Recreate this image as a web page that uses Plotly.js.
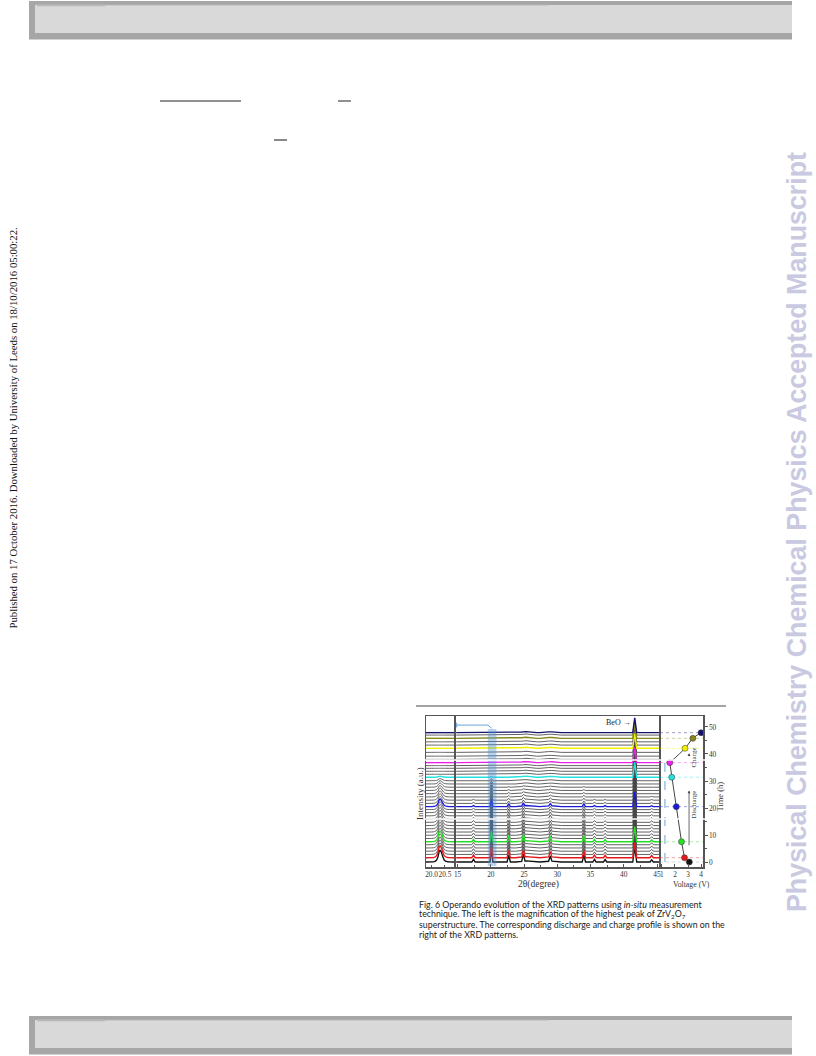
<!DOCTYPE html>
<html><head><meta charset="utf-8">
<script src="https://cdn.plot.ly/plotly-3.0.1.min.js"></script>
<style>html,body{margin:0;padding:0;background:#fff;}#chart{width:816px;height:1056px;}</style>
</head><body><div id="chart"></div>
<script>
// ---------- data ----------
const times = [0, 1.6, 2.8, 4.0, 5.2, 6.4, 7.5, 8.7, 9.9, 11.1, 12.3, 13.5, 14.7, 15.9, 17.1, 18.3, 19.4, 20.5, 21.7, 22.9, 24.1, 25.3, 26.5, 27.7, 28.9, 30.1, 31.4, 32.5, 33.6, 34.7, 35.7, 36.8, 38.0, 39.2, 40.6, 42.1, 43.3, 44.5, 45.8, 47.0, 47.9];
const patternColors = ["#111111","#e3191b","#3a3a3a","#3a3a3a","#3a3a3a","#3a3a3a","#22e022","#3a3a3a","#3a3a3a","#3a3a3a","#3a3a3a","#3a3a3a","#3a3a3a","#3a3a3a","#3a3a3a","#3a3a3a","#3a3a3a","#1c1cd6","#3a3a3a","#3a3a3a","#3a3a3a","#3a3a3a","#3a3a3a","#3a3a3a","#3a3a3a","#3a3a3a","#22e2e2","#3a3a3a","#3a3a3a","#3a3a3a","#3a3a3a","#ea22ea","#3a3a3a","#3a3a3a","#3a3a3a","#f2f200","#3a3a3a","#3a3a3a","#87871a","#3a3a3a","#14146e"];
// relative intensity of the strongest ZrV2O7 peak (~20.1 deg) and of the other ZrV2O7 peaks
const mainAmp  = [1.0,1.0,0.98,0.96,0.94,0.92,0.9,0.88,0.86,0.84,0.82,0.8,0.78,0.75,0.72,0.7,0.67,0.64,0.6,0.56,0.52,0.48,0.42,0.36,0.28,0.18,0.08,0,0,0,0,0,0,0,0,0,0,0,0,0,0];
const otherAmp = [1.0,1.0,0.97,0.95,0.92,0.9,0.88,0.85,0.82,0.78,0.74,0.7,0.66,0.62,0.57,0.52,0.47,0.42,0.35,0.28,0.22,0.16,0.11,0.07,0.04,0.02,0,0,0,0,0,0,0,0,0,0,0,0,0,0,0];
const mainPeakPos = 20.1, mainPeakH = 4.5;
const peakPos = [17.4, 22.7, 24.9, 28.95, 34.0, 35.6, 37.2, 44.2];
const peakH   = [1.0, 2.6, 2.6, 1.9, 2.6, 1.0, 0.9, 0.8];
const beoPos = 41.65, beoH = 5.5;
const humpPos = [25.3, 29.0];
const humpH   = [0.4, 0.35];
// magnified 20.3 deg peak (left panel)
const zoomX     = [19.79, 20.1, 20.18, 20.24, 20.28, 20.32, 20.36, 20.42, 20.48, 20.58, 20.84];
const zoomShape = [0, 0.03, 0.15, 0.45, 0.85, 1.0, 0.85, 0.45, 0.15, 0.03, 0];
const zoomPeakH = 4.4;
// discharge / charge profile
const dotV = [3.1, 2.73, 2.5, 2.1, 1.75, 1.6, 2.77, 3.37, 4.0];
const dotT = [0, 1.6, 7.5, 20.5, 31.4, 36.8, 42.1, 45.8, 47.9];
const dotColors = ["#111111","#e3191b","#22e022","#1c1cd6","#22e2e2","#ea22ea","#f2f200","#87871a","#14146e"];
const xTicksMid = [15, 20, 25, 30, 35, 40, 45];
const xTicksLeft = [20.0, 20.5];
const xTicksLeftText = ["20.0", "20.5"];

// ---------- helpers ----------
const W = 816, H = 1056;
const px = x => x / W, py = y => 1 - y / H;
const SERIF = "Liberation Serif, Times New Roman, serif";
const GRAY = "#3a3a3a";

function triProfile(peaks, xmin, xmax) {
  let knots = [xmin, xmax];
  peaks.forEach(k => knots.push(k.p - k.w, k.p, k.p + k.w));
  knots = knots.filter(x => x >= xmin && x <= xmax).sort((a, b) => a - b);
  knots = knots.filter((x, i) => i === 0 || x - knots[i - 1] > 1e-9);
  const y = knots.map(x => peaks.reduce((s, k) => s + k.h * Math.max(0, 1 - Math.abs(x - k.p) / k.w), 0));
  return {x: knots, y};
}

const traces = [];
const order = times.map((t, i) => i).sort((a, b) => (patternColors[a] === GRAY ? 0 : 1) - (patternColors[b] === GRAY ? 0 : 1));
order.forEach(i => {
  const gray = patternColors[i] === GRAY;
  const peaks = [{p: mainPeakPos, h: mainPeakH * mainAmp[i], w: 0.22},
                 {p: beoPos, h: beoH, w: 0.3}];
  peakPos.forEach((p, k) => peaks.push({p, h: peakH[k] * otherAmp[i], w: 0.25}));
  humpPos.forEach((p, k) => peaks.push({p, h: humpH[k], w: 1.6}));
  const prof = triProfile(peaks, 14.8, 45.3);
  traces.push({type: "scatter", mode: "lines", xaxis: "x2", yaxis: "y2",
    x: prof.x, y: prof.y.map(v => v + times[i]),
    line: {color: patternColors[i], width: gray ? 0.8 : 1.4}, hoverinfo: "skip", showlegend: false});
  traces.push({type: "scatter", mode: "lines", xaxis: "x", yaxis: "y",
    x: zoomX, y: zoomShape.map(s => times[i] + zoomPeakH * mainAmp[i] * s),
    line: {color: patternColors[i], width: gray ? 0.8 : 1.4, shape: "spline", smoothing: 0.6}, hoverinfo: "skip", showlegend: false});
});

// voltage profile
traces.push({type: "scatter", mode: "lines", xaxis: "x3", yaxis: "y3",
  x: dotV.slice(0, 6), y: dotT.slice(0, 6), line: {color: "#444", width: 1}, hoverinfo: "skip", showlegend: false});
traces.push({type: "scatter", mode: "lines", xaxis: "x3", yaxis: "y3",
  x: dotV.slice(5), y: dotT.slice(5), line: {color: "#444", width: 1, shape: "spline", smoothing: 0.8}, hoverinfo: "skip", showlegend: false});
traces.push({type: "scatter", mode: "markers", xaxis: "x3", yaxis: "y3",
  x: dotV, y: dotT, marker: {color: dotColors, size: 6, line: {color: "#333", width: 0.5}}, hoverinfo: "skip", showlegend: false});

// ---------- layout ----------
const yDomain = [py(867), py(716)];
const yRange = [-1.85, 54.07];
const frame = {showline: true, mirror: true, linecolor: "#555", linewidth: 1.5, showgrid: false, zeroline: false};
const tickFont = {family: SERIF, size: 7.3, color: "#333"};

const shapes = [];
function rect(x0, y0, x1, y1, fill) {
  shapes.push({type: "rect", xref: "paper", yref: "paper", x0: px(x0), x1: px(x1), y0: py(y1), y1: py(y0), fillcolor: fill, line: {width: 0}, layer: "below"});
}
function line(x0, y0, x1, y1, color, width, dash) {
  shapes.push({type: "line", xref: "paper", yref: "paper", x0: px(x0), x1: px(x1), y0: py(y0), y1: py(y1), line: {color, width, dash: dash || "solid"}, layer: "above"});
}
// header / footer bars
[0, 1015].forEach(off => {
  rect(29, 1 + off, 792, 39.5 + off, "#a6a6a6");
  rect(35, 5 + off, 792, 33 + off, "#d9d9d9");
  rect(37, 4.3 + off, 105, 6.3 + off, "#b8b8b8");
  rect(105, 4.8 + off, 549, 5.8 + off, "#c4c4c4");
});
// equation fragments
line(160, 101, 241, 101, "#222", 1);
line(338, 101, 351, 101, "#222", 1);
line(274, 140, 287, 140, "#888", 2);
// rule above figure
line(416, 706, 726, 706, "#a3a3a3", 2);

// highlight band and connector
shapes.push({type: "rect", xref: "x2", yref: "y2", x0: 19.55, x1: 20.85, y0: -1.5, y1: 49.3,
  fillcolor: "rgba(80,145,210,0.4)", line: {width: 0}, layer: "above"});
shapes.push({type: "line", xref: "x2", yref: "y2", x0: 14.87, x1: 19.58, y0: 50.7, y1: 50.7, line: {color: "#6aa3d8", width: 1}});
shapes.push({type: "line", xref: "x2", yref: "y2", x0: 19.58, x1: 20.14, y0: 50.7, y1: 49.5, line: {color: "#6aa3d8", width: 1}});
shapes.push({type: "line", xref: "x2", yref: "y2", x0: 14.87, x1: 14.87, y0: 49.8, y1: 51.6, line: {color: "#6aa3d8", width: 1}});

// right panel guide lines
dotT.forEach((t, k) => {
  shapes.push({type: "line", xref: "x3", yref: "y3", x0: 0.85, x1: 4.15, y0: t, y1: t,
    line: {color: dotColors[k] === "#111111" ? "#999" : dotColors[k], width: 0.8, dash: "dot"}, opacity: 0.5, layer: "below"});
});
shapes.push({type: "line", xref: "x3", yref: "y3", x0: 1.23, x1: 1.23, y0: 0, y1: 36.8,
  line: {color: "#6aa3d8", width: 1, dash: "dash"}});

// white scan artefact lines
line(412, 760, 728, 760, "#ffffff", 1.5);
line(412, 819, 728, 819, "#ffffff", 1.5);

const annotations = [];
function ann(text, x, y, o) {
  annotations.push(Object.assign({text, xref: "paper", yref: "paper", x: px(x), y: py(y),
    showarrow: false, xanchor: "center", yanchor: "middle",
    font: {family: SERIF, size: 9, color: "#222"}}, o || {}));
}
ann("Published on 17 October 2016. Downloaded by University of Leeds on 18/10/2016 05:00:22.", 12, 428.5,
  {textangle: -90, font: {family: SERIF, size: 10.75, color: "#111"}});
ann("Physical Chemistry Chemical Physics Accepted Manuscript", 797, 532,
  {textangle: -90, font: {family: "Liberation Sans, Arial, sans-serif", size: 26.8, color: "#c9c9e1", weight: "bold"}});

ann("Intensity (a.u.)", 420, 793, {textangle: -90, font: {family: SERIF, size: 9, color: "#333"}});
ann("2θ(degree)", 538, 884, {font: {family: SERIF, size: 9.5, color: "#333"}});
ann("Voltage (V)", 691, 884, {font: {family: SERIF, size: 7.8, color: "#333"}});
ann("Time (h)", 719.5, 797, {textangle: -90, font: {family: SERIF, size: 8.5, color: "#333"}});
ann("BeO →", 618, 722, {font: {family: SERIF, size: 8, color: "#222"}});

// right panel arrows + labels
annotations.push({xref: "x3", yref: "y3", axref: "x3", ayref: "y3", x: 3.08, y: 26.5, ax: 3.08, ay: 2.5, text: " ",
  showarrow: true, arrowhead: 2, arrowsize: 0.7, arrowwidth: 0.8, arrowcolor: "#444"});
annotations.push({xref: "x3", yref: "y3", axref: "x3", ayref: "y3", x: 3.08, y: 40.3, ax: 3.08, ay: 35.5, text: " ",
  showarrow: true, arrowhead: 2, arrowsize: 0.7, arrowwidth: 0.8, arrowcolor: "#444"});
annotations.push({xref: "x3", yref: "y3", x: 3.5, y: 21, text: "Discharge", textangle: -90, showarrow: false,
  font: {family: SERIF, size: 7, color: "#444"}});
annotations.push({xref: "x3", yref: "y3", x: 3.5, y: 38.5, text: "Charge", textangle: -90, showarrow: false,
  font: {family: SERIF, size: 7, color: "#444"}});

// caption
const capFont = {family: "Lato, Liberation Sans, sans-serif", size: 8.8, color: "#222"};
[
  "Fig. 6 Operando evolution of the XRD patterns using <i>in-situ</i> measurement",
  "technique. The left is the magnification of the highest peak of ZrV<sub>2</sub>O<sub>7</sub>",
  "superstructure. The corresponding discharge and charge profile is shown on the",
  "right of the XRD patterns."
].forEach((t, k) => ann(t, 417, 904 + 10 * k, {xanchor: "left", font: capFont}));

const layout = {
  width: W, height: H, margin: {l: 0, r: 0, t: 0, b: 0},
  paper_bgcolor: "#ffffff", plot_bgcolor: "#ffffff", showlegend: false,
  xaxis: Object.assign({}, frame, {domain: [px(426), px(454)], range: [19.79, 20.84], anchor: "y",
    tickmode: "array", tickvals: xTicksLeft, ticktext: xTicksLeftText, ticks: "inside", ticklen: 2.5,
    tickcolor: "#555", tickfont: tickFont, tickangle: 0}),
  yaxis: Object.assign({}, frame, {domain: yDomain, range: yRange, anchor: "x", showticklabels: false, ticks: ""}),
  xaxis2: Object.assign({}, frame, {domain: [px(455), px(659)], range: [14.62, 45.3], anchor: "y2",
    tickmode: "array", tickvals: xTicksMid, ticks: "inside", ticklen: 3, tickcolor: "#555", tickfont: tickFont, tickangle: 0,
    minor: {tickmode: "array", tickvals: [17.5, 22.5, 27.5, 32.5, 37.5, 42.5], ticks: "inside", ticklen: 2, tickcolor: "#555"}}),
  yaxis2: Object.assign({}, frame, {domain: yDomain, range: yRange, anchor: "x2", showticklabels: false, ticks: ""}),
  xaxis3: Object.assign({}, frame, {domain: [px(660), px(703)], range: [0.85, 4.15], anchor: "y3",
    tickmode: "array", tickvals: [1, 2, 3, 4], ticks: "inside", ticklen: 3, tickcolor: "#555", tickfont: tickFont, tickangle: 0}),
  yaxis3: Object.assign({}, frame, {domain: yDomain, range: yRange, anchor: "x3", side: "right",
    tickmode: "array", tickvals: [0, 10, 20, 30, 40, 50], ticks: "outside", ticklen: 3, tickcolor: "#555", tickfont: tickFont,
    minor: {tickmode: "array", tickvals: [5, 15, 25, 35, 45], ticks: "outside", ticklen: 2, tickcolor: "#555"}}),
  shapes, annotations
};

Plotly.newPlot("chart", traces, layout, {staticPlot: true, displayModeBar: false});
</script>
</body></html>
